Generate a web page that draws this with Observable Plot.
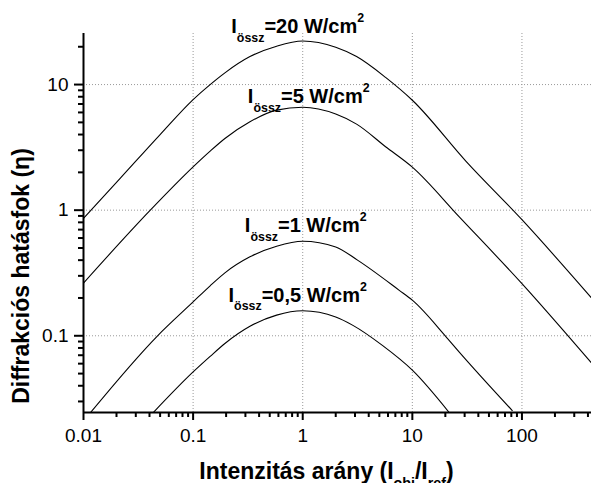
<!DOCTYPE html>
<html><head><meta charset="utf-8">
<script src="https://cdn.jsdelivr.net/npm/d3@7"></script>
<script src="https://cdn.jsdelivr.net/npm/@observablehq/plot@0.6"></script>
<style>
html,body{margin:0;padding:0;background:#fff;}
#chart svg{display:block;}
</style>
</head><body><div id="chart"></div>
<script>
// ---- data ----
const seriesNames = ["20", "5", "1", "0,5"];
const ratio20 = [0.01, 0.0217, 0.05, 0.1, 0.143, 0.195, 0.33, 0.578, 1, 2, 3.1, 5.7, 10, 30.9, 100, 431];
const eta20   = [0.86, 1.8, 4.0, 7.6, 10.0, 12.4, 16.7, 20.2, 22.2, 19.8, 16.7, 11.4, 7.5, 2.45, 0.84, 0.2];
const ratio5  = [0.01, 0.0407, 0.1, 0.143, 0.195, 0.33, 0.578, 1, 2, 3.1, 5.7, 10, 26.8, 100, 431];
const eta5    = [0.263, 1.0, 2.21, 2.95, 3.72, 5.06, 6.26, 6.59, 5.82, 4.84, 3.2, 2.2, 0.884, 0.26, 0.0607];
const ratio1  = [0.0116, 0.0474, 0.1, 0.143, 0.195, 0.33, 0.578, 1, 2, 3.16, 7.6, 10, 19.95, 26.8, 81.6];
const eta1    = [0.0245, 0.1, 0.186, 0.25, 0.317, 0.425, 0.516, 0.566, 0.51, 0.4, 0.23, 0.192, 0.1, 0.0742, 0.0254];
const ratio05 = [0.043, 0.1, 0.143, 0.195, 0.33, 0.578, 1, 2, 2.87, 5.33, 10, 21.5];
const eta05   = [0.0243, 0.0515, 0.0685, 0.0868, 0.119, 0.146, 0.158, 0.141, 0.121, 0.0838, 0.0532, 0.0247];
const seriesLabels = ["I_{össz}=20 W/cm^{2}", "I_{össz}=5 W/cm^{2}", "I_{össz}=1 W/cm^{2}", "I_{össz}=0,5 W/cm^{2}"];
const xTicks = [0.01, 0.1, 1, 10, 100];
const yTicks = [0.1, 1, 10];
const xTitle = "Intenzitás arány (I_{obj}/I_{ref})";
const yTitle = "Diffrakciós hatásfok (η)";

// ---- layout ----
const W = 591, H = 483;
const M = {left: 83, right: 0, top: 33, bottom: 71};
const frameW = W - M.left - M.right, frameH = H - M.top - M.bottom;
const xDomain = [0.01, 431];
const yDomain = [0.0245, 25.5];
const labelOffsets = [[-5, -8], [6, -4], [3, -9], [-5, -9]];
const FONT = "'Liberation Sans', Arial, sans-serif";

const ratios = [ratio20, ratio5, ratio1, ratio05];
const etas = [eta20, eta5, eta1, eta05];
const rows = [];
ratios.forEach((xs, i) => xs.forEach((x, j) => rows.push({series: seriesNames[i], x, y: etas[i][j]})));
const peaks = ratios.map((xs, i) => {
  const j = d3.maxIndex(etas[i]);
  return {x: xs[j], y: etas[i][j], text: seriesLabels[i]};
});

function minorTicks(domain, majors) {
  const out = [];
  for (const d of majors.concat([majors[0] / 10, majors[majors.length - 1] * 10]))
    for (let k = 2; k <= 9; k++) {
      const v = d * k;
      if (v > domain[0] && v < domain[1]) out.push(v);
    }
  return out;
}

const plot = Plot.plot({
  width: W,
  height: H,
  marginLeft: M.left,
  marginRight: M.right,
  marginTop: M.top,
  marginBottom: M.bottom,
  style: {fontFamily: FONT, background: "#fff", color: "#000"},
  x: {type: "log", domain: xDomain, axis: null},
  y: {type: "log", domain: yDomain, axis: null},
  marks: [
    Plot.gridX(xTicks.slice(1), {stroke: "#999", strokeOpacity: 1, strokeDasharray: "1,2"}),
    Plot.gridY(yTicks, {stroke: "#999", strokeOpacity: 1, strokeDasharray: "1,2"}),
    Plot.line(rows, {x: "x", y: "y", z: "series", stroke: "#000", strokeWidth: 1.1, curve: "monotone-x", clip: true}),
    // tick marks (outward)
    Plot.ruleX(minorTicks(xDomain, xTicks), {insetTop: frameH, insetBottom: -5, strokeWidth: 2, stroke: "#000"}),
    Plot.ruleX(xTicks, {insetTop: frameH, insetBottom: -8, strokeWidth: 2, stroke: "#000"}),
    Plot.ruleY(minorTicks(yDomain, yTicks), {insetRight: frameW, insetLeft: -5, strokeWidth: 2, stroke: "#000"}),
    Plot.ruleY(yTicks, {insetRight: frameW, insetLeft: -9, strokeWidth: 2, stroke: "#000"}),
    // tick labels
    Plot.axisX(xTicks, {tickSize: 0, tickPadding: 16, fontSize: 19, tickFormat: d => String(d), label: null}),
    Plot.axisY(yTicks, {tickSize: 0, tickPadding: 15, fontSize: 19, tickFormat: d => String(d), label: null}),
    // axis lines
    Plot.ruleX([xDomain[0]], {strokeWidth: 2, stroke: "#000"}),
    Plot.ruleY([yDomain[0]], {strokeWidth: 2, stroke: "#000"}),
    ...peaks.map((p, i) => Plot.text([p], {
      x: "x", y: "y", text: "text", textAnchor: "middle", lineAnchor: "bottom",
      dx: labelOffsets[i][0], dy: labelOffsets[i][1], fontSize: 20, fontWeight: "bold", fill: "#000"
    })),
    Plot.text([xTitle], {frameAnchor: "bottom", textAnchor: "middle", lineAnchor: "bottom", dx: -11, dy: 66, fontSize: 23, fontWeight: "bold", fill: "#000"}),
    Plot.text([yTitle], {frameAnchor: "left", textAnchor: "middle", rotate: -90, lineAnchor: "bottom", dx: -55, dy: 53, fontSize: 23, fontWeight: "bold", fill: "#000"})
  ]
});
document.getElementById("chart").appendChild(plot);

// sub/superscripts as real tspans
d3.select(plot).selectAll("text").each(function () {
  const s = this.textContent;
  if (!/[_^]\{/.test(s)) return;
  const fs = parseFloat(getComputedStyle(this).fontSize);
  const parts = [];
  const re = /([_^])\{([^}]*)\}/g;
  let last = 0, m;
  while ((m = re.exec(s))) {
    if (m.index > last) parts.push({t: s.slice(last, m.index), k: ""});
    parts.push({t: m[2], k: m[1]});
    last = re.lastIndex;
  }
  if (last < s.length) parts.push({t: s.slice(last), k: ""});
  this.textContent = "";
  let shift = 0;
  for (const p of parts) {
    const ts = d3.select(this).append("tspan").text(p.t);
    const target = p.k === "_" ? 0.43 * fs : p.k === "^" ? -0.56 * fs : 0;
    if (target - shift) ts.attr("dy", target - shift);
    shift = target;
    if (p.k) ts.attr("font-size", 0.62 * fs);
  }
});
</script>
</body></html>
